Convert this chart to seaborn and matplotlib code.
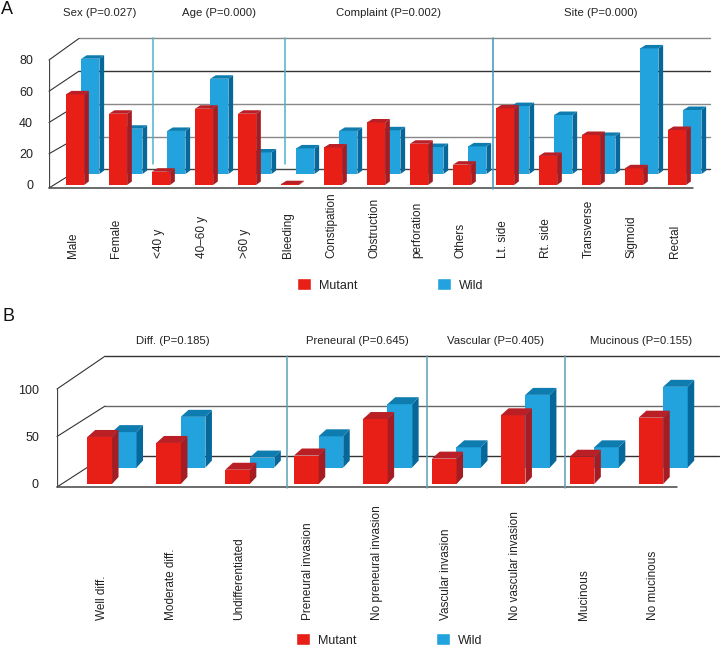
import numpy as np
import pandas as pd
import matplotlib
matplotlib.use("Agg")
import matplotlib.pyplot as plt
from matplotlib.patches import Patch, Polygon
import seaborn as sns

# panel A
cats_a = ["Male", "Female", "<40 y", "40–60 y", ">60 y", "Bleeding", "Constipation", "Obstruction",
          "perforation", "Others", "Lt. side", "Rt. side", "Transverse", "Sigmoid", "Rectal"]
mutant_a = [58, 45.6, 8.5, 48.8, 45.6, 0.5, 24, 40, 26.4, 13, 49, 18.6, 32, 10.7, 35.2]
wild_a = [73.8, 29, 27.6, 61, 13.8, 16.4, 27.6, 28, 17.3, 17.7, 43.5, 37.8, 24.4, 80.4, 41]
ticks_a = [0, 20, 40, 60, 80]
groups_a = ["Sex (P=0.027)", "Age (P=0.000)", "Complaint (P=0.002)", "Site (P=0.000)"]

# panel B
cats_b = ["Well diff.", "Moderate diff.", "Undifferentiated", "Preneural invasion", "No preneural invasion",
          "Vascular invasion", "No vascular invasion", "Mucinous", "No mucinous"]
mutant_b = [49.5, 43.2, 15, 30, 68.4, 26.7, 72.3, 28.7, 69.8]
wild_b = [37.3, 53.4, 10.5, 32.9, 66.7, 21.3, 76.5, 21.3, 85]
ticks_b = [0, 50, 100]
groups_b = ["Diff. (P=0.185)", "Preneural (P=0.645)", "Vascular (P=0.405)", "Mucinous (P=0.155)"]

RED = ("#e81f17", "#a51d22", "#b91f25")
BLUE = ("#22a3de", "#06689a", "#0f7cb0")
W, H = 720, 651

sns.set_theme(style="white")
plt.rcParams["font.family"] = ["Liberation Sans", "DejaVu Sans"]
plt.rcParams["text.color"] = "#222222"
plt.rcParams["xtick.color"] = "#222222"
plt.rcParams["ytick.color"] = "#222222"


def bars(ax, x, vals, base, width, dx, dy, colors, z):
    before = len(ax.patches)
    df = pd.DataFrame({"x": x, "y": vals})
    sns.barplot(data=df, x="x", y="y", ax=ax, native_scale=True, width=width, color=colors[0],
                saturation=1, errorbar=None, bottom=base, linewidth=0, zorder=z)
    # side and top faces from each bar that seaborn drew
    for p in list(ax.patches[before:]):
        x0, x1 = p.get_x(), p.get_x() + p.get_width()
        y0, y1 = p.get_y(), p.get_y() + p.get_height()
        ax.add_patch(Polygon([(x1, y0), (x1 + dx, y0 + dy), (x1 + dx, y1 + dy), (x1, y1)],
                             fc=colors[1], lw=0, zorder=z))
        ax.add_patch(Polygon([(x0, y1), (x0 + dx * 1.2, y1 + dy), (x1 + dx, y1 + dy), (x1, y1)],
                             fc=colors[2], lw=0, zorder=z))


def panel(box, x0, step, y0, scale, cats, mutant, wild, ticks, groups, group_px, seps, back, grid_colors, o):
    left, right, top, floor = box
    ax = fig.add_axes([left / W, 1 - floor / H, (right - left) / W, (floor - top) / H])
    ax.set_xlim((left - x0) / step, (right - x0) / step)
    ax.set_ylim((y0 - floor) / scale, (y0 - top) / scale)
    px = lambda v: (v - x0) / step

    # walls and grid behind the bars
    for t, c in zip(ticks, grid_colors):
        yb = back[0] + t * back[1]
        yf = t if t > 0 else (y0 - floor) / scale
        ax.plot([px(o["back_x"]), px(o["grid_end"])], [yb, yb], color=c, lw=1, zorder=1, clip_on=False)
        ax.plot([px(left), px(o["back_x"])], [yf, yb], color="#333333", lw=0.8, zorder=1, clip_on=False)
    ax.plot([px(left), px(left)], [(y0 - floor) / scale, ticks[-1]], color="#444444", lw=0.9, zorder=1)
    ax.plot([px(left), px(o["floor_end"])], [(y0 - floor) / scale] * 2, color="#444444", lw=1.1,
            zorder=1, clip_on=False)
    for s, end, c in seps:
        ax.plot([px(s), px(s)], [(y0 - end) / scale, back[0] + ticks[-1] * back[1]], color=c, lw=1.1, zorder=1.5,
                clip_on=False)

    pos = np.arange(len(cats))
    dx, dy = o["depth"][0] / step, o["depth"][1] / scale
    bars(ax, pos + o["shift"] / step, wild, o["wild_base"], o["width"], dx, dy, BLUE, 2)
    bars(ax, pos, mutant, 0, o["width"], dx, dy, RED, 3)

    ax.set_xlim((left - x0) / step, (right - x0) / step)
    ax.set_ylim((y0 - floor) / scale, (y0 - top) / scale)
    ax.set_xticks(pos + o["lab_shift"] / step)
    ax.set_xticklabels(cats)
    ax.set_yticks(ticks)
    ax.set_xlabel("")
    ax.set_ylabel("")
    ax.tick_params(axis="x", length=0, pad=o["lab_pad"], labelsize=8.5)
    ax.tick_params(axis="y", length=0, pad=o["y_pad"], labelsize=9)
    plt.setp(ax.get_xticklabels(), rotation=90, va="bottom", ha="center")
    sns.despine(ax=ax, left=True, bottom=True)
    ax.patch.set_alpha(0)

    for g, gx in zip(groups, group_px):
        ax.text(px(gx), (y0 - o["title_y"]) / scale, g, ha="center", va="center", fontsize=8.2)
    return ax


def legend(x, y, spacing):
    fig.legend(handles=[Patch(fc=RED[0], label="Mutant"), Patch(fc=BLUE[0], label="Wild")],
               loc="center left", bbox_to_anchor=(x / W, 1 - y / H), ncol=2, frameon=False, fontsize=9,
               handlelength=1.11, handleheight=1.11, handletextpad=0.64, columnspacing=spacing,
               borderpad=0, borderaxespad=0)


fig = plt.figure(figsize=(W / 100, H / 100), dpi=100, facecolor="white")

panel((49, 720, 36, 188), 75, 43, 185, 1.5625, cats_a, mutant_a, wild_a, ticks_a, groups_a,
      [100, 219, 389, 601],
      [(153, 164, "#4fb0d0"), (285, 164, "#4fb0d0"), (492.7, 189, "#3f97bd")],
      (10, 1.0475), ["#444444", "#888888", "#888888", "#333333", "#888888"],
      dict(back_x=79, grid_end=710, floor_end=693, depth=(4.7, 3.5), shift=15.3, wild_base=7,
           width=0.425, lab_shift=-2, lab_pad=50.4, y_pad=11.5, title_y=13))

panel((57, 720, 350, 487), 99.7, 68.9, 484, 0.95, cats_b, mutant_b, wild_b, ticks_b, groups_b,
      [172.8, 357.7, 495.7, 641],
      [(287, 488, "#5d9fb5"), (426.7, 488, "#5d9fb5"), (564.7, 488, "#5d9fb5")],
      (29.5, 1.05), ["#333333", "#666666", "#333333"],
      dict(back_x=105, grid_end=719, floor_end=677, depth=(6.5, 7), shift=24.5, wild_base=17.3,
           width=0.358, lab_shift=2, lab_pad=95.8, y_pad=13, title_y=341))

legend(297, 285, 6.4)
legend(296, 640, 6.4)

fig.text(1 / W, 1 - 9 / H, "A", fontsize=13, va="center", ha="left", color="#111111")
fig.text(2 / W, 1 - 316 / H, "B", fontsize=13, va="center", ha="left", color="#111111")

fig.savefig("out.png", dpi=100, facecolor="white")
